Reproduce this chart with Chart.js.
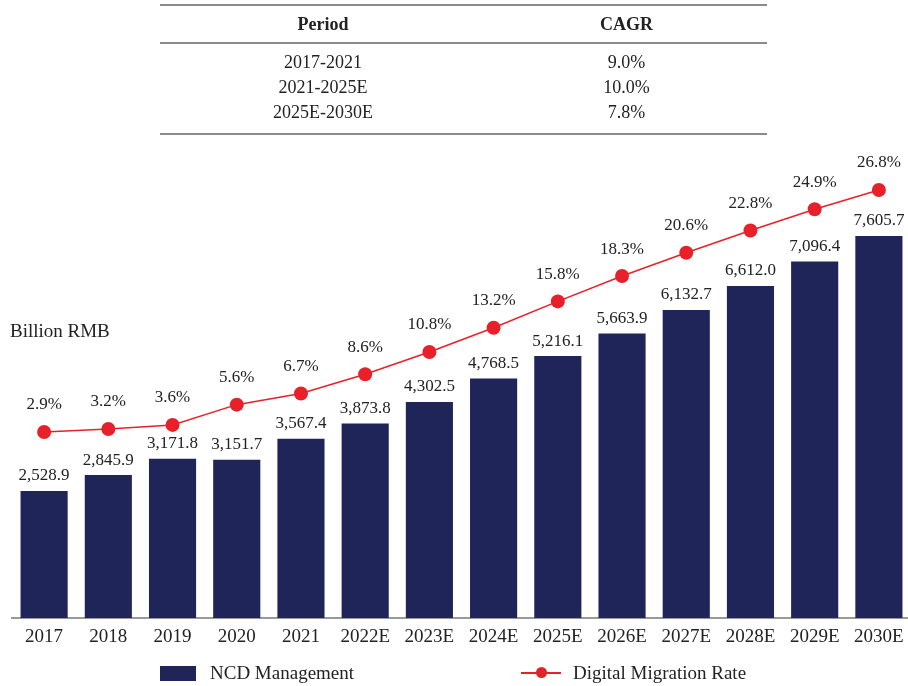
<!DOCTYPE html>
<html>
<head>
<meta charset="utf-8">
<script src="https://cdn.jsdelivr.net/npm/chart.js@4.4.1/dist/chart.umd.min.js"></script>
<style>
  html, body { margin: 0; padding: 0; background: #fff; }
  body { width: 908px; height: 686px; position: relative; overflow: hidden; font-family: "Liberation Serif", "Times New Roman", serif; color: #222; }
  #wrap { position: absolute; left: 0; top: 0; width: 908px; height: 686px; overflow: hidden; }
  table.cagr { position: absolute; left: 160px; top: 4px; width: 607px; border-collapse: collapse; font-size: 18px; }
  table.cagr th { font-weight: bold; height: 36px; border-top: 2px solid #8a8a8a; border-bottom: 2px solid #8a8a8a; padding: 0; }
  table.cagr td { text-align: center; height: 25px; padding: 0; line-height: 25px; }
  table.cagr tr.first td { padding-top: 6px; }
  table.cagr tr.last td { border-bottom: 2px solid #8a8a8a; padding-bottom: 8px; }
  #unit { position: absolute; left: 10px; top: 320px; font-size: 19px; }
  .leg { position: absolute; top: 662px; font-size: 19px; line-height: 22px; }
  .box { position: absolute; width: 36px; height: 15px; background: #1f2559; top: 4px; left: -50px; }
  .ln { position: absolute; width: 40px; height: 2px; background: #e8202a; top: 10px; left: -52px; }
  .dot { position: absolute; width: 11px; height: 11px; border-radius: 50%; background: #e8202a; top: 5px; left: -37px; }
</style>
</head>
<body>
<div id="wrap"><canvas id="chart" width="918" height="686"></canvas></div>
<table class="cagr" id="cagr"></table>
<div id="unit">Billion RMB</div>
<div class="leg" style="left:210px"><span class="box"></span>NCD Management</div>
<div class="leg" style="left:573px"><span class="ln"></span><span class="dot"></span>Digital Migration Rate</div>
<script>
const years = ["2017", "2018", "2019", "2020", "2021", "2022E", "2023E", "2024E", "2025E", "2026E", "2027E", "2028E", "2029E", "2030E"];
const ncdManagement = [2528.9, 2845.9, 3171.8, 3151.7, 3567.4, 3873.8, 4302.5, 4768.5, 5216.1, 5663.9, 6132.7, 6612.0, 7096.4, 7605.7];
const migrationRate = [2.9, 3.2, 3.6, 5.6, 6.7, 8.6, 10.8, 13.2, 15.8, 18.3, 20.6, 22.8, 24.9, 26.8];
const cagrPeriods = ["2017-2021", "2021-2025E", "2025E-2030E"];
const cagrValues = ["9.0%", "10.0%", "7.8%"];

// CAGR table
const tbl = document.getElementById("cagr");
let html = '<tr><th style="width:326px">Period</th><th>CAGR</th></tr>';
cagrPeriods.forEach((p, i) => {
  const cls = i === 0 ? "first" : (i === cagrPeriods.length - 1 ? "last" : "");
  html += '<tr class="' + cls + '"><td>' + p + '</td><td>' + cagrValues[i] + '</td></tr>';
});
tbl.innerHTML = html;

const BAR = "#1f2559";
const RED = "#e8202a";
const FONT = "'Liberation Serif', 'Times New Roman', serif";

const valueLabels = {
  id: "valueLabels",
  afterDatasetsDraw(chart) {
    const ctx = chart.ctx;
    ctx.save();
    ctx.fillStyle = "#222";
    ctx.textAlign = "center";
    ctx.textBaseline = "middle";
    ctx.font = "17px " + FONT;
    chart.getDatasetMeta(1).data.forEach((el, i) => {
      const txt = ncdManagement[i].toLocaleString("en-US", { minimumFractionDigits: 1, maximumFractionDigits: 1 });
      ctx.fillText(txt, el.x, el.y - 15);
    });
    chart.getDatasetMeta(0).data.forEach((el, i) => {
      ctx.fillText(migrationRate[i].toFixed(1) + "%", el.x, el.y - 27);
    });
    ctx.restore();
  }
};

new Chart(document.getElementById("chart"), {
  type: "bar",
  data: {
    labels: years,
    datasets: [
      {
        type: "line",
        label: "Digital Migration Rate",
        data: migrationRate,
        yAxisID: "y2",
        borderColor: RED,
        backgroundColor: RED,
        borderWidth: 1.5,
        pointRadius: 7,
        pointHoverRadius: 7,
        pointBorderWidth: 0,
        tension: 0,
        order: 0,
      },
      {
        label: "NCD Management",
        data: ncdManagement,
        yAxisID: "y",
        backgroundColor: BAR,
        categoryPercentage: 1,
        barPercentage: 0.734,
        order: 1,
      },
    ],
  },
  options: {
    responsive: false,
    animation: false,
    layout: { padding: { left: 12, right: 0, top: 166, bottom: 38 } },
    scales: {
      x: {
        grid: { display: false, drawTicks: false },
        border: { display: true, color: "#999", width: 2 },
        ticks: { color: "#222", font: { family: FONT, size: 19 }, padding: 8, maxRotation: 0, autoSkip: false },
        afterFit(scale) { scale.height = 30; },
      },
      y: { display: false, min: 0, max: 9000 },
      y2: { display: false, min: -15.47, max: 29.17 },
    },
    plugins: {
      legend: { display: false },
      tooltip: { enabled: false },
    },
  },
  plugins: [valueLabels],
});
</script>
</body>
</html>
